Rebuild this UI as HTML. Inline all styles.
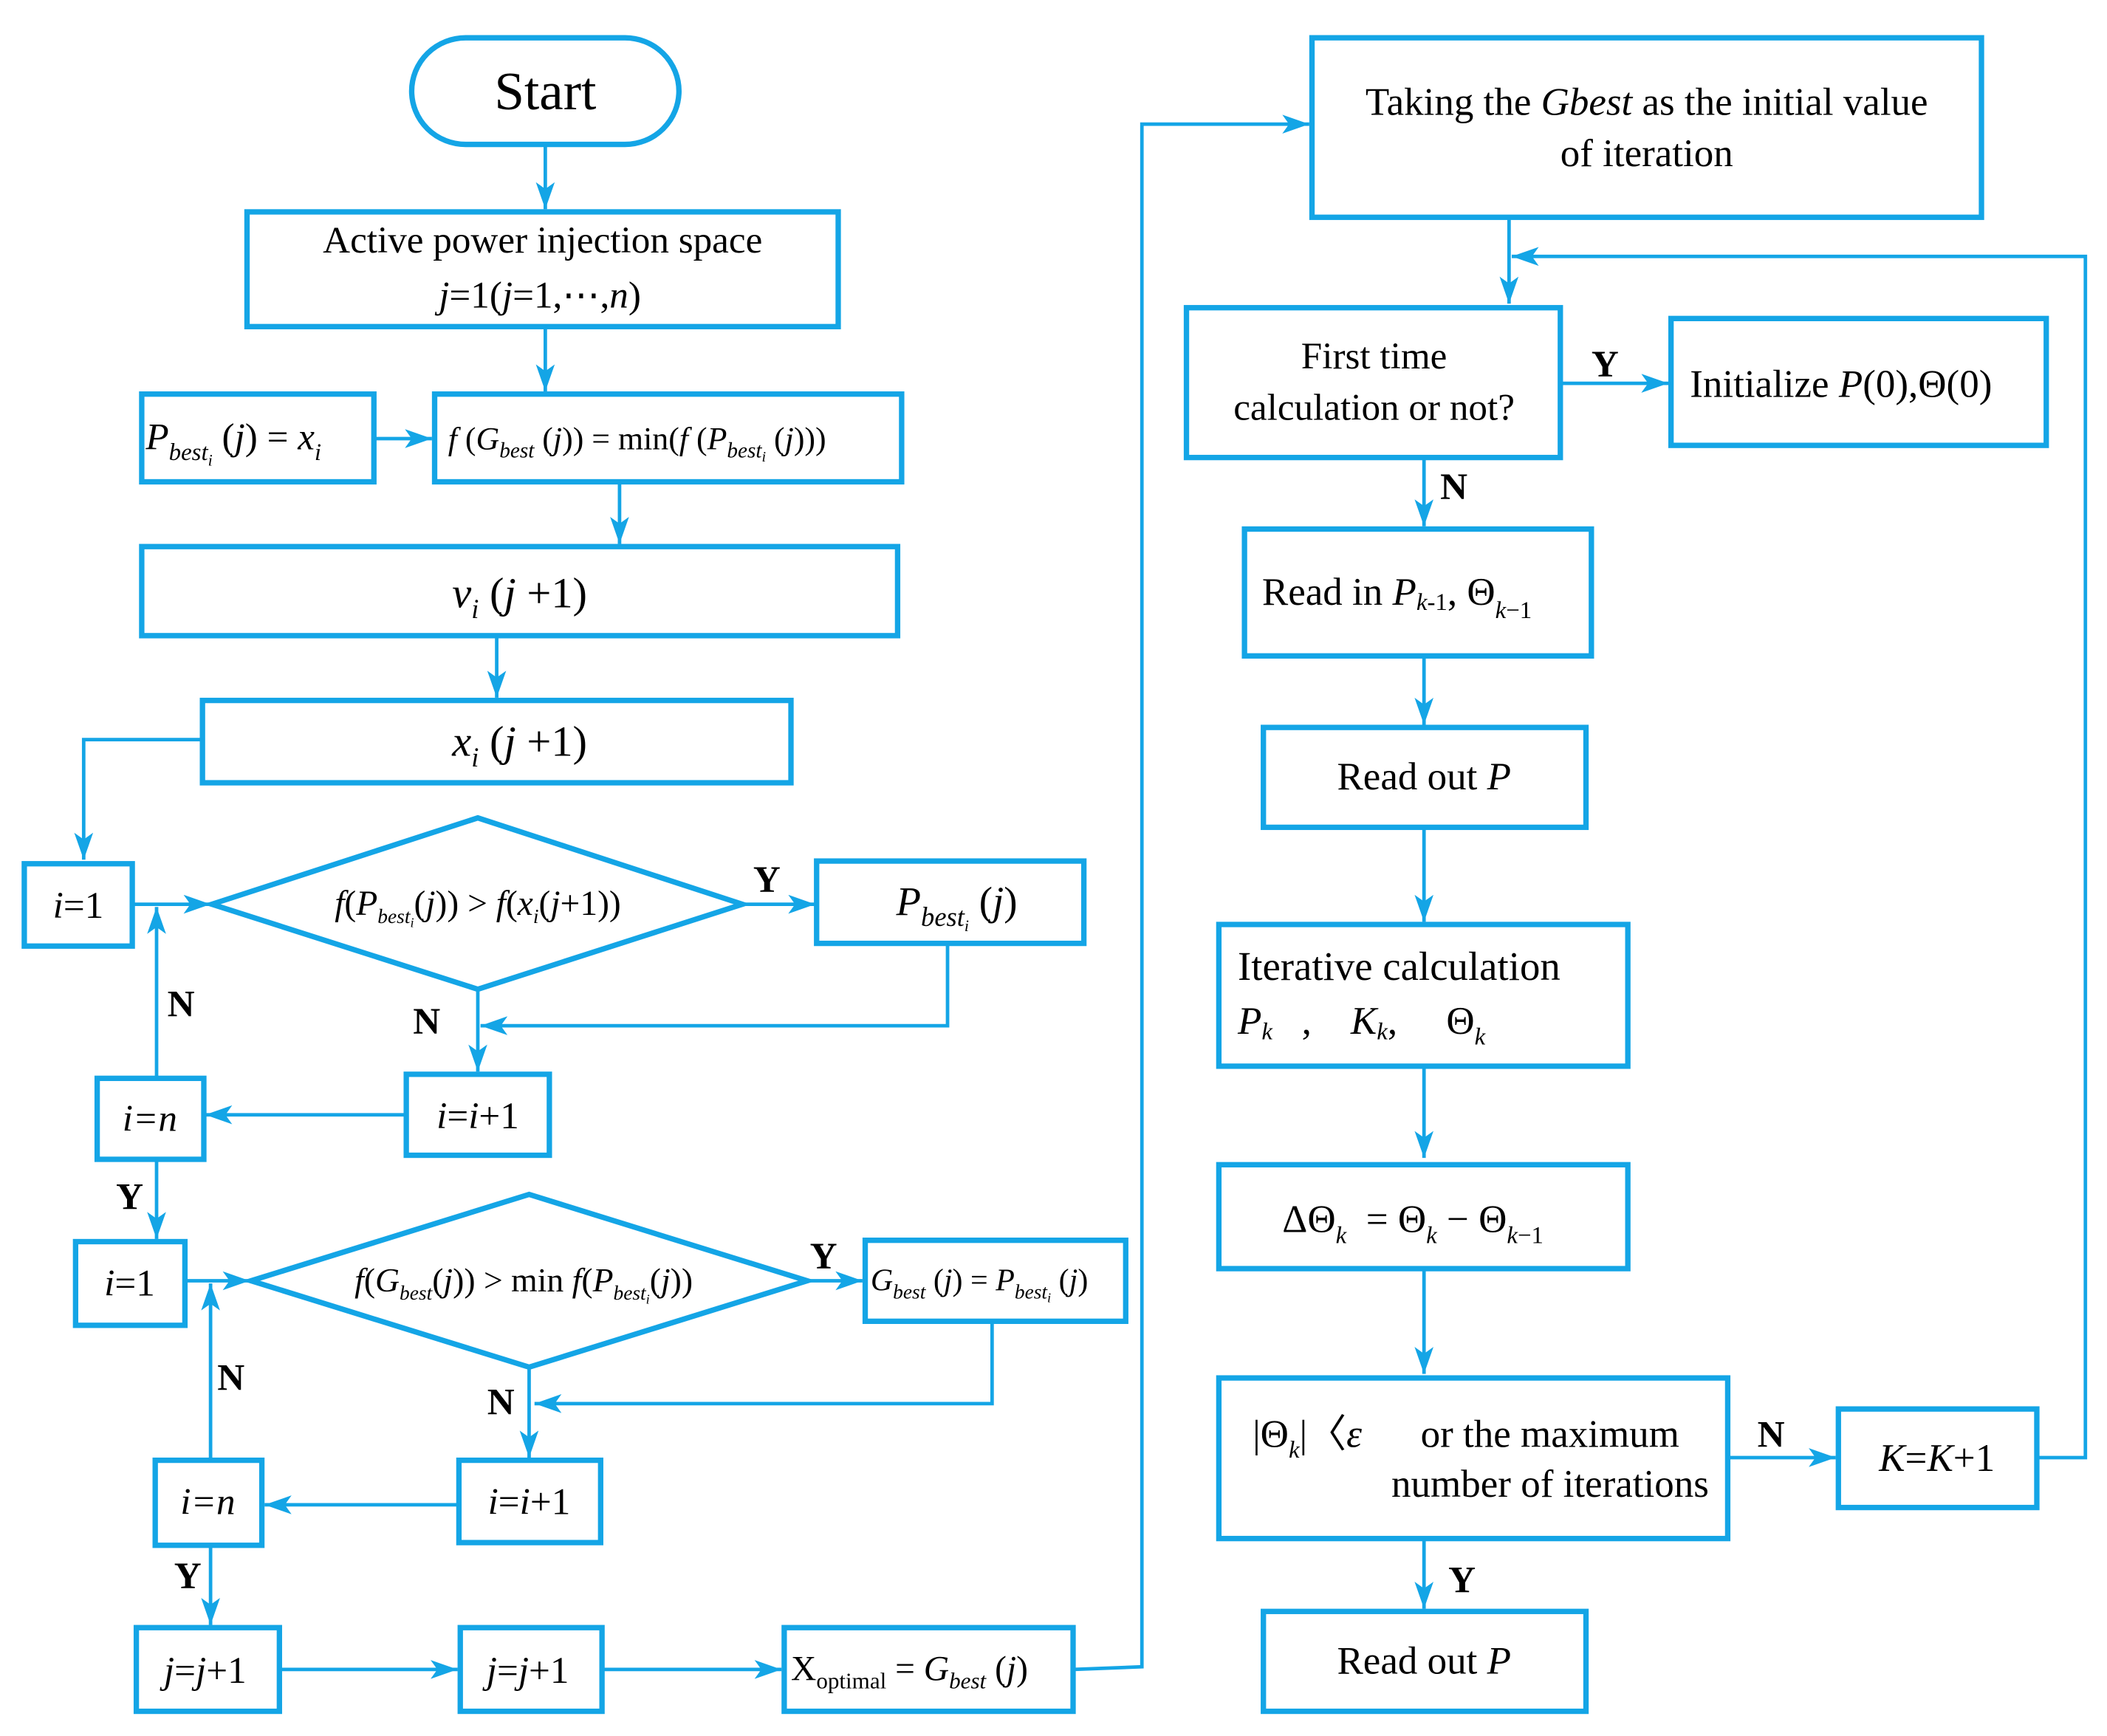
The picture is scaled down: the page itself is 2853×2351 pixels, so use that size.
<!DOCTYPE html>
<html><head><meta charset="utf-8"><style>
html,body{margin:0;padding:0;background:#fff;}
svg{display:block}
text{font-family:"Liberation Serif",serif;fill:#000;}
.b{fill:none;stroke:#14a5e6;stroke-width:4;}
.l{fill:none;stroke:#14a5e6;stroke-width:2.6;}
.i{font-style:italic}
.lab{font-weight:bold;font-size:28px}
</style></head><body>
<svg width="2853" height="2351" viewBox="0 0 1561 1286.3" preserveAspectRatio="none" xmlns="http://www.w3.org/2000/svg">
<defs>
<marker id="m" viewBox="0 0 20 14" refX="20" refY="7" markerWidth="20" markerHeight="14" orient="auto" markerUnits="userSpaceOnUse"><path d="M0,0 L20,7 L0,14 L5,7 z" fill="#14a5e6"/></marker></defs>

<rect class="b" x="305" y="28" width="198" height="79" rx="40"/>
<text x="404" y="81" font-size="40" text-anchor="middle">Start</text>
<line class="l" x1="404" y1="107" x2="404" y2="155" marker-end="url(#m)"/>
<rect class="b" x="183" y="157" width="438" height="85"/>
<text x="402" y="187" font-size="28" text-anchor="middle">Active power injection space</text>
<text x="400" y="228" font-size="28" text-anchor="middle"><tspan class="i">j</tspan>=1(<tspan class="i">j</tspan>=1,⋯,<tspan class="i">n</tspan>)</text>
<line class="l" x1="404" y1="242" x2="404" y2="290" marker-end="url(#m)"/>
<rect class="b" x="105" y="292" width="172" height="65"/>
<text x="108" y="333" font-size="28"><tspan class="i">P</tspan><tspan class="i" font-size="18" dy="8">best</tspan><tspan font-size="12" dy="4" class="i">i</tspan><tspan dy="-12"> (</tspan><tspan class="i">j</tspan>) = <tspan class="i">x</tspan><tspan class="i" font-size="18" dy="8">i</tspan></text>
<line class="l" x1="277" y1="325" x2="320" y2="325" marker-end="url(#m)"/>
<rect class="b" x="322" y="292" width="346" height="65"/>
<text x="332" y="333" font-size="24"><tspan class="i">f</tspan> (<tspan class="i">G</tspan><tspan class="i" font-size="16" dy="6">best</tspan><tspan dy="-6"> (</tspan><tspan class="i">j</tspan>)) = min(<tspan class="i">f</tspan> (<tspan class="i">P</tspan><tspan class="i" font-size="16" dy="6">best</tspan><tspan font-size="11" dy="3" class="i">i</tspan><tspan dy="-9"> (</tspan><tspan class="i">j</tspan>)))</text>
<line class="l" x1="459" y1="357" x2="459" y2="403" marker-end="url(#m)"/>
<rect class="b" x="105" y="405" width="560" height="66"/>
<text x="385" y="450" font-size="32" text-anchor="middle"><tspan class="i">v</tspan><tspan class="i" font-size="20" dy="8">i</tspan><tspan dy="-8"> (</tspan><tspan class="i">j</tspan> +1)</text>
<line class="l" x1="368" y1="471" x2="368" y2="517" marker-end="url(#m)"/>
<rect class="b" x="150" y="519" width="436" height="61"/>
<text x="385" y="560" font-size="32" text-anchor="middle"><tspan class="i">x</tspan><tspan class="i" font-size="20" dy="8">i</tspan><tspan dy="-8"> (</tspan><tspan class="i">j</tspan> +1)</text>
<polyline class="l" points="150,548 62,548 62,637" marker-end="url(#m)"/>
<rect class="b" x="18" y="640" width="80" height="61"/>
<text x="58" y="680" font-size="28" text-anchor="middle"><tspan class="i">i</tspan>=1</text>
<line class="l" x1="98" y1="670" x2="156" y2="670" marker-end="url(#m)"/>
<polygon class="b" points="157,670 354,606 550,670 354,733"/>
<text x="354" y="678" font-size="26" text-anchor="middle"><tspan class="i">f</tspan>(<tspan class="i">P</tspan><tspan class="i" font-size="15" dy="6">best</tspan><tspan font-size="10" dy="3" class="i">i</tspan><tspan dy="-9">(</tspan><tspan class="i">j</tspan>)) &gt; <tspan class="i">f</tspan>(<tspan class="i">x</tspan><tspan class="i" font-size="15" dy="6">i</tspan><tspan dy="-6">(</tspan><tspan class="i">j</tspan>+1))</text>
<line class="l" x1="550" y1="670" x2="604" y2="670" marker-end="url(#m)"/>
<text x="558" y="661" class="lab">Y</text>
<rect class="b" x="605" y="638" width="198" height="61"/>
<text x="664" y="678" font-size="30"><tspan class="i">P</tspan><tspan class="i" font-size="20" dy="8">best</tspan><tspan class="i" font-size="12" dy="4">i</tspan><tspan dy="-12"> (</tspan><tspan class="i">j</tspan>)</text>
<polyline class="l" points="702,699 702,760 356,760" marker-end="url(#m)"/>
<line class="l" x1="354" y1="733" x2="354" y2="794" marker-end="url(#m)"/>
<text x="306" y="766" class="lab">N</text>
<rect class="b" x="301" y="796" width="106" height="60"/>
<text x="354" y="836" font-size="28" text-anchor="middle"><tspan class="i">i</tspan>=<tspan class="i">i</tspan>+1</text>
<line class="l" x1="301" y1="826" x2="152" y2="826" marker-end="url(#m)"/>
<rect class="b" x="72" y="799" width="79" height="60"/>
<text x="111" y="838" font-size="28" text-anchor="middle" class="i">i=n</text>
<line class="l" x1="116" y1="799" x2="116" y2="672" marker-end="url(#m)"/>
<text x="124" y="753" class="lab">N</text>
<line class="l" x1="116" y1="859" x2="116" y2="918" marker-end="url(#m)"/>
<text x="86" y="896" class="lab">Y</text>
<rect class="b" x="56" y="920" width="81" height="62"/>
<text x="96" y="960" font-size="28" text-anchor="middle"><tspan class="i">i</tspan>=1</text>
<line class="l" x1="137" y1="949" x2="185" y2="949" marker-end="url(#m)"/>
<polygon class="b" points="186,949 392,885 598,949 392,1013"/>
<text x="388" y="957" font-size="25" text-anchor="middle"><tspan class="i">f</tspan>(<tspan class="i">G</tspan><tspan class="i" font-size="15" dy="6">best</tspan><tspan dy="-6">(</tspan><tspan class="i">j</tspan>)) &gt; min <tspan class="i">f</tspan>(<tspan class="i">P</tspan><tspan class="i" font-size="15" dy="6">best</tspan><tspan font-size="10" dy="3" class="i">i</tspan><tspan dy="-9">(</tspan><tspan class="i">j</tspan>))</text>
<line class="l" x1="598" y1="949" x2="639" y2="949" marker-end="url(#m)"/>
<text x="600" y="940" class="lab">Y</text>
<rect class="b" x="641" y="919" width="193" height="60"/>
<text x="645" y="956" font-size="23"><tspan class="i">G</tspan><tspan class="i" font-size="15" dy="6">best</tspan><tspan dy="-6"> (</tspan><tspan class="i">j</tspan>) = <tspan class="i">P</tspan><tspan class="i" font-size="15" dy="6">best</tspan><tspan font-size="10" dy="3" class="i">i</tspan><tspan dy="-9"> (</tspan><tspan class="i">j</tspan>)</text>
<polyline class="l" points="735,979 735,1040 396,1040" marker-end="url(#m)"/>
<line class="l" x1="392" y1="1013" x2="392" y2="1080" marker-end="url(#m)"/>
<text x="361" y="1048" class="lab">N</text>
<rect class="b" x="340" y="1082" width="105" height="61"/>
<text x="392" y="1122" font-size="28" text-anchor="middle"><tspan class="i">i</tspan>=<tspan class="i">i</tspan>+1</text>
<line class="l" x1="340" y1="1115" x2="196" y2="1115" marker-end="url(#m)"/>
<rect class="b" x="115" y="1082" width="79" height="63"/>
<text x="154" y="1122" font-size="28" text-anchor="middle" class="i">i=n</text>
<line class="l" x1="156" y1="1082" x2="156" y2="951" marker-end="url(#m)"/>
<text x="161" y="1030" class="lab">N</text>
<line class="l" x1="156" y1="1145" x2="156" y2="1204" marker-end="url(#m)"/>
<text x="129" y="1177" class="lab">Y</text>
<rect class="b" x="101" y="1206" width="106" height="62"/>
<text x="152" y="1247" font-size="28" text-anchor="middle"><tspan class="i">j</tspan>=<tspan class="i">j</tspan>+1</text>
<line class="l" x1="207" y1="1237" x2="339" y2="1237" marker-end="url(#m)"/>
<rect class="b" x="341" y="1206" width="105" height="62"/>
<text x="391" y="1247" font-size="28" text-anchor="middle"><tspan class="i">j</tspan>=<tspan class="i">j</tspan>+1</text>
<line class="l" x1="446" y1="1237" x2="579" y2="1237" marker-end="url(#m)"/>
<rect class="b" x="581" y="1206" width="214" height="62"/>
<text x="586" y="1245" font-size="26">X<tspan font-size="17" dy="6">optimal</tspan><tspan dy="-6"> = </tspan><tspan class="i">G</tspan><tspan class="i" font-size="17" dy="6">best</tspan><tspan dy="-6"> (</tspan><tspan class="i">j</tspan>)</text>
<polyline class="l" points="795,1237 846,1235 846,92 970,92" marker-end="url(#m)"/>

<rect class="b" x="972" y="28" width="496" height="133"/>
<text x="1220" y="85" font-size="29" text-anchor="middle">Taking the <tspan class="i">Gbest</tspan> as the initial value</text>
<text x="1220" y="123" font-size="29" text-anchor="middle">of iteration</text>
<line class="l" x1="1118" y1="161" x2="1118" y2="225" marker-end="url(#m)"/>
<rect class="b" x="879" y="228" width="277" height="111"/>
<text x="1018" y="273" font-size="28" text-anchor="middle">First time</text>
<text x="1018" y="311" font-size="28" text-anchor="middle">calculation or not?</text>
<line class="l" x1="1156" y1="284" x2="1236" y2="284" marker-end="url(#m)"/>
<text x="1179" y="279" class="lab">Y</text>
<rect class="b" x="1238" y="236" width="278" height="94"/>
<text x="1252" y="294" font-size="29">Initialize <tspan class="i">P</tspan>(0),Θ(0)</text>
<line class="l" x1="1055" y1="339" x2="1055" y2="390" marker-end="url(#m)"/>
<text x="1067" y="370" class="lab">N</text>
<rect class="b" x="922" y="392" width="257" height="94"/>
<text x="935" y="448" font-size="29">Read in <tspan class="i">P</tspan><tspan class="i" font-size="18" dy="4">k</tspan><tspan font-size="18">-1</tspan><tspan dy="-4">,  Θ</tspan><tspan class="i" font-size="18" dy="10">k</tspan><tspan font-size="18">−1</tspan></text>
<line class="l" x1="1055" y1="486" x2="1055" y2="537" marker-end="url(#m)"/>
<rect class="b" x="936" y="539" width="239" height="74"/>
<text x="1055" y="585" font-size="29" text-anchor="middle">Read out <tspan class="i">P</tspan></text>
<line class="l" x1="1055" y1="613" x2="1055" y2="683" marker-end="url(#m)"/>
<rect class="b" x="903" y="685" width="303" height="105"/>
<text x="917" y="726" font-size="30">Iterative calculation</text>
<text x="917" y="766" font-size="29" xml:space="preserve"><tspan class="i">P</tspan><tspan class="i" font-size="18" dy="4">k</tspan><tspan dy="-4">   ,    </tspan><tspan class="i">K</tspan><tspan class="i" font-size="18" dy="4">k</tspan><tspan dy="-4">,     Θ</tspan><tspan class="i" font-size="18" dy="8">k</tspan></text>
<line class="l" x1="1055" y1="790" x2="1055" y2="858" marker-end="url(#m)"/>
<rect class="b" x="903" y="863" width="303" height="77"/>
<text x="950" y="913" font-size="29" xml:space="preserve">ΔΘ<tspan class="i" font-size="18" dy="8">k</tspan><tspan dy="-8">  = Θ</tspan><tspan class="i" font-size="18" dy="8">k</tspan><tspan dy="-8"> − Θ</tspan><tspan class="i" font-size="18" dy="8">k</tspan><tspan font-size="18">−1</tspan></text>
<line class="l" x1="1055" y1="940" x2="1055" y2="1018" marker-end="url(#m)"/>
<rect class="b" x="903" y="1021" width="377" height="119"/>
<text x="928" y="1072" font-size="29" xml:space="preserve">|Θ<tspan class="i" font-size="18" dy="8">k</tspan><tspan dy="-8">|〈</tspan><tspan class="i">ε</tspan><tspan>      or the maximum</tspan></text>
<text x="1266" y="1109" font-size="29" text-anchor="end">number of iterations</text>
<line class="l" x1="1280" y1="1080" x2="1360" y2="1080" marker-end="url(#m)"/>
<text x="1302" y="1072" class="lab">N</text>
<rect class="b" x="1362" y="1044" width="147" height="73"/>
<text x="1435" y="1090" font-size="29" text-anchor="middle"><tspan class="i">K</tspan>=<tspan class="i">K</tspan>+1</text>
<polyline class="l" points="1509,1080 1545,1080 1545,190 1120,190" marker-end="url(#m)"/>
<line class="l" x1="1055" y1="1140" x2="1055" y2="1192" marker-end="url(#m)"/>
<text x="1073" y="1180" class="lab">Y</text>
<rect class="b" x="936" y="1194" width="239" height="74"/>
<text x="1055" y="1240" font-size="29" text-anchor="middle">Read out <tspan class="i">P</tspan></text>
</svg>
</body></html>
